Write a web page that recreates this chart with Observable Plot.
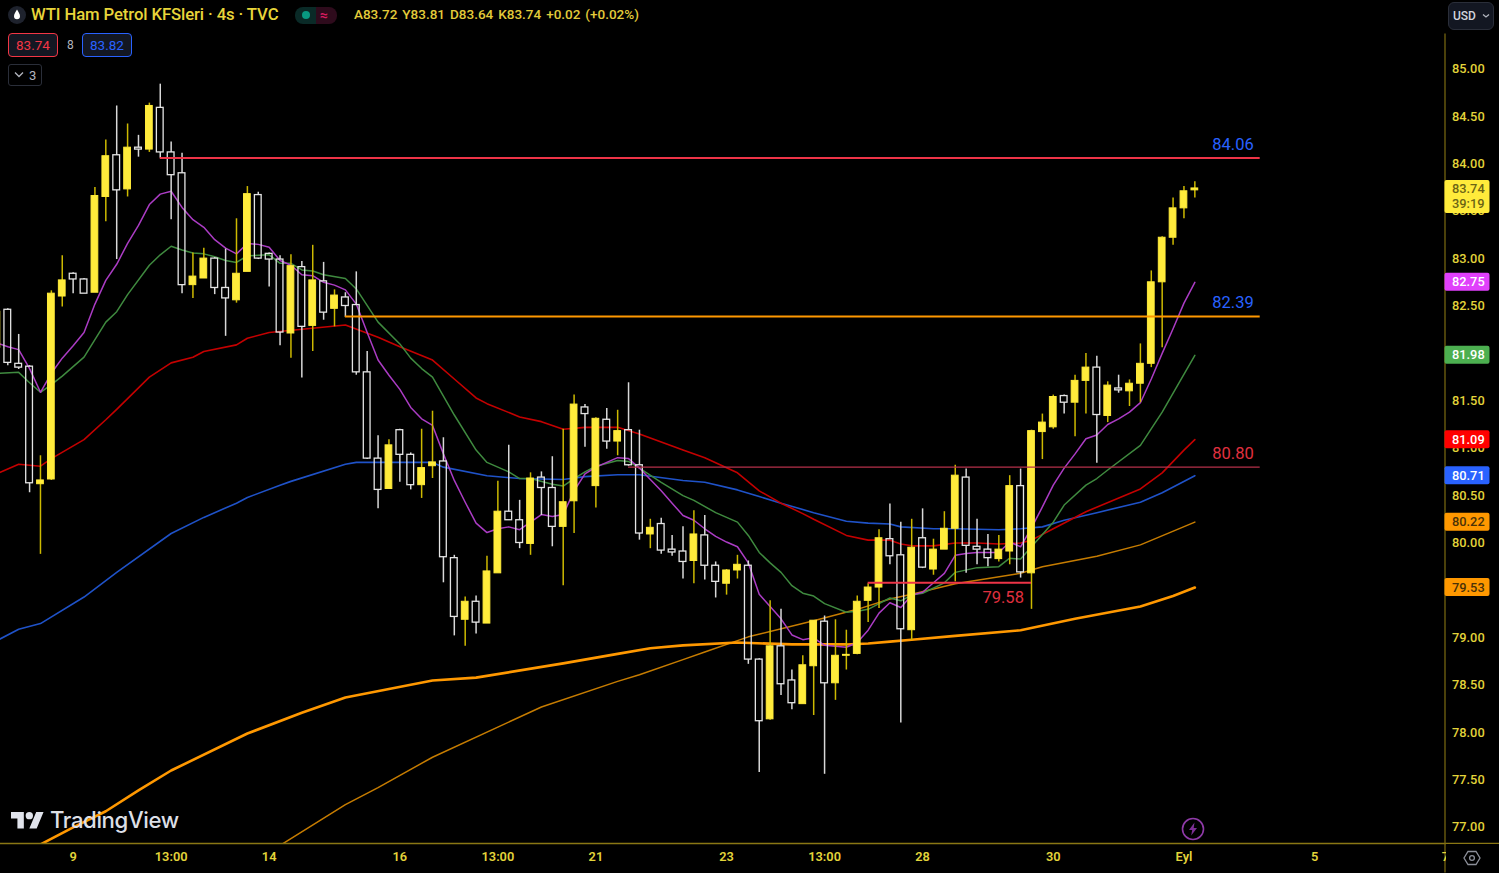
<!DOCTYPE html>
<html><head><meta charset="utf-8">
<script src="https://cdn.jsdelivr.net/npm/d3@7"></script>
<script src="https://cdn.jsdelivr.net/npm/@observablehq/plot@0.6"></script>
<style>
html,body{margin:0;padding:0;background:#000;overflow:hidden}
#wrap{position:relative;width:1499px;height:873px;background:#000;font-family:Roboto,sans-serif;overflow:hidden}
#wrap>svg{display:block}
.o{position:absolute;white-space:nowrap;line-height:1}
.chip{position:absolute;box-sizing:border-box;top:33px;height:24px;width:50px;border-radius:4px;background:#131722;font-size:13.5px;display:flex;align-items:center;justify-content:center}
</style></head><body><div id="wrap">
<svg class="o" style="left:8px;top:6px" width="18" height="18" viewBox="0 0 18 18"><circle cx="9" cy="9" r="9" fill="#1e222d"/><path d="M9 3.5C7.6 6 6 8 6 10.2a3 3 0 0 0 6 0C12 8 10.4 6 9 3.5z" fill="#fff"/></svg>
<div class="o" style="left:31px;top:7px;font-size:16.7px;font-weight:500;color:#e8d53a;letter-spacing:-.1px" id="ttl">WTI Ham Petrol KFSleri · 4s · TVC</div>
<div class="o" style="left:295px;top:7px;width:21px;height:17px;background:#0a2a27;border-radius:8px 0 0 8px"></div>
<div class="o" style="left:316px;top:7px;width:21px;height:17px;background:#2e0b1c;border-radius:0 8px 8px 0"></div>
<div class="o" style="left:302px;top:11px;width:8px;height:8px;border-radius:50%;background:#089981"></div>
<div class="o" style="left:320px;top:8px;font-size:14px;color:#d81b60;font-weight:700">≈</div>
<div class="o" style="left:354px;top:8px;font-size:13.5px;font-weight:500;color:#e3cb3a;word-spacing:1.6px">A83.72 Y83.81 D83.64 K83.74 +0.02 (+0.02%)</div>
<div class="chip" style="left:8px;border:1px solid #f23645;color:#f23645">83.74</div>
<div class="o" style="left:67px;top:39px;font-size:12px;color:#b2b5be">8</div>
<div class="chip" style="left:82px;border:1px solid #2962ff;color:#2962ff">83.82</div>
<div class="o" style="left:8px;top:64px;box-sizing:border-box;width:34px;height:22px;border:1px solid #2a2e39;border-radius:3px"></div>
<svg class="o" style="left:14px;top:71px" width="10" height="7" viewBox="0 0 10 7"><path d="M1 1.5l4 4 4-4" fill="none" stroke="#b2b5be" stroke-width="1.3"/></svg>
<div class="o" style="left:29px;top:69px;font-size:13px;color:#b2b5be">3</div>
<div class="o" style="left:1448px;top:2px;box-sizing:border-box;width:46px;height:28px;background:#131722;border:1px solid #2a2e39;border-radius:6px"></div>
<div class="o" style="left:1453px;top:10px;font-size:12px;font-weight:500;color:#d1d4dc">USD</div>
<svg class="o" style="left:1482px;top:13px" width="8" height="6" viewBox="0 0 8 6"><path d="M1 1.5l3 2.5 3-2.5" fill="none" stroke="#b2b5be" stroke-width="1.3"/></svg>
<svg class="o" style="left:11px;top:812px" width="33" height="17" viewBox="0 0 36 18.5"><path d="M14 18H7V7H0V0h14v18zM28 18h-8L27.5 0h8L28 18z" fill="#e0e3eb"/><circle cx="20" cy="4" r="4" fill="#e0e3eb"/></svg>
<div class="o" style="left:50px;top:809px;font-size:22.2px;font-weight:500;color:#dcdfe6;font-family:Inter,Roboto,sans-serif;letter-spacing:-.4px">TradingView</div>
<svg class="o" style="left:1181px;top:817px" width="24" height="24" viewBox="0 0 24 24"><circle cx="12" cy="12" r="10.5" fill="none" stroke="#8f3aa8" stroke-width="1.6"/><path d="M13.5 5.5L8 13h3.2l-1 5.5L16 11h-3.3z" fill="#7d2f95"/></svg>
<div class="o" style="left:1446px;top:844px;width:53px;height:29px;background:#000"></div>
<svg class="o" style="left:1463px;top:849px" width="18" height="18" viewBox="0 0 18 18"><path d="M5 2.5h8L17 9l-4 6.5H5L1 9z" fill="none" stroke="#8c8f99" stroke-width="1.3"/><circle cx="9" cy="9" r="2.4" fill="none" stroke="#8c8f99" stroke-width="1.3"/></svg>
</div>
<script>
const firstIndex = -1;
const opens = [82.06,82.46,81.89,81.86,80.62,80.67,82.60,82.84,82.78,82.64,83.65,84.09,83.73,84.17,84.15,84.59,84.12,83.90,82.72,82.79,
83.00,82.69,82.56,82.86,83.67,83.05,82.99,82.21,82.91,82.29,82.76,82.47,82.59,82.51,81.80,80.89,80.57,81.19,80.93,80.61,
80.81,80.86,79.84,79.19,79.38,79.15,79.68,80.33,80.24,79.99,80.69,80.58,80.17,80.44,81.43,80.60,81.30,81.07,81.19,80.82,
80.09,80.20,79.93,79.91,79.81,80.08,79.76,79.57,79.71,79.76,78.77,78.14,78.91,78.55,78.30,78.70,79.17,78.52,78.81,78.83,
79.39,79.53,80.04,79.87,79.08,80.05,79.72,79.93,80.15,80.69,79.96,79.93,79.83,79.91,80.60,79.68,81.17,81.22,81.55,81.48,
81.71,81.85,81.34,81.63,81.60,81.68,81.89,82.75,83.22,83.53,83.72];
const highs = [82.46,82.47,82.20,81.87,80.92,82.66,83.03,82.85,82.79,83.75,84.25,84.61,84.42,84.30,84.64,84.84,84.23,84.11,83.06,83.11,
83.01,83.10,83.42,83.76,83.70,83.06,83.03,83.04,82.97,83.14,82.96,82.67,82.64,82.86,82.02,81.13,81.09,81.20,80.95,81.20,
81.39,81.11,79.87,79.43,79.44,79.86,80.65,81.03,80.45,80.74,80.75,80.91,81.20,81.56,81.46,81.32,81.42,81.40,81.69,81.19,
80.25,80.26,80.08,80.17,80.34,80.29,79.80,79.72,79.87,79.81,78.78,79.39,79.30,78.66,78.81,79.18,79.23,79.19,79.08,79.44,
79.57,80.14,80.41,80.22,80.25,80.36,80.04,80.33,80.82,80.78,80.25,80.09,80.08,80.71,80.78,81.19,81.36,81.56,81.56,81.77,
82.00,81.97,81.70,81.77,81.72,82.10,82.87,83.23,83.64,83.76,83.81];
const lows = [82.00,81.87,81.83,80.53,79.88,80.66,82.49,82.63,82.63,82.64,83.39,82.99,83.65,84.07,84.12,84.06,83.41,82.63,82.58,82.79,
82.62,82.18,82.53,82.86,82.99,82.70,82.08,81.95,81.74,82.02,82.35,82.28,82.38,81.77,80.88,80.36,80.57,80.64,80.56,80.47,
80.68,79.58,79.02,78.91,79.04,79.15,79.68,80.24,79.94,79.87,80.29,79.96,79.55,80.10,81.01,80.37,80.99,80.92,80.81,80.03,
79.94,79.88,79.86,79.62,79.57,79.61,79.42,79.45,79.62,78.72,77.58,78.13,78.39,78.24,78.30,78.18,77.56,78.34,78.66,78.82,
79.16,79.31,79.77,78.10,78.97,79.73,79.66,79.93,79.59,79.68,79.77,79.75,79.80,79.77,79.63,79.30,80.88,81.20,81.36,81.12,
81.36,80.84,81.27,81.58,81.44,81.48,81.85,82.06,83.14,83.42,83.64];
const closes = [82.44,81.90,81.85,80.63,80.66,82.63,82.77,82.78,82.63,83.66,84.08,83.72,84.17,84.15,84.61,84.12,83.88,82.72,82.81,83.00,
82.69,82.58,82.84,83.68,83.00,82.99,82.22,82.92,82.28,82.77,82.43,82.61,82.50,81.80,80.89,80.56,81.03,80.93,80.61,80.79,
80.85,79.85,79.22,79.38,79.16,79.70,80.33,80.24,80.00,80.68,80.58,80.17,80.43,81.46,81.36,81.31,81.07,81.18,80.82,80.10,
80.16,79.92,79.90,79.80,80.09,79.76,79.59,79.71,79.77,78.77,78.12,78.91,78.51,78.31,78.71,79.18,78.52,78.81,78.82,79.38,
79.53,80.05,79.86,79.09,79.95,79.74,79.93,80.15,80.71,79.97,79.93,79.84,79.93,80.60,79.69,81.18,81.27,81.54,81.48,81.71,
81.85,81.35,81.66,81.61,81.68,81.89,82.75,83.22,83.53,83.71,83.74];

const purple = [82.11,82.07,82.04,81.84,81.59,81.79,81.95,82.08,82.22,82.52,
82.77,82.94,83.16,83.35,83.57,83.68,83.71,83.54,83.41,83.33,
83.20,83.11,83.05,83.16,83.15,83.12,82.98,82.93,82.83,82.82,
82.75,82.72,82.67,82.52,82.22,81.93,81.77,81.62,81.43,81.31,
81.24,80.94,80.66,80.43,80.21,80.11,80.15,80.17,80.14,80.22,
80.30,80.28,80.30,80.55,80.73,80.80,80.85,80.90,80.89,80.79,
80.67,80.55,80.42,80.29,80.24,80.15,80.07,80.01,79.96,79.79,
79.46,79.33,79.20,79.03,78.98,79.00,78.92,78.91,78.90,78.95,
79.08,79.26,79.37,79.32,79.45,79.48,79.58,79.68,79.87,79.89,
79.90,79.90,79.90,80.01,79.96,80.16,80.38,80.61,80.79,80.94,
81.10,81.14,81.25,81.31,81.38,81.48,81.73,82.00,82.26,82.53,82.75];

const greenAt = [-1,1,2,3,4,5,7,9,10,11,13,14,15,16,17,18,19,20,21,22,24,25,26,27,28,29,31,32,34,36,37,38,39,41,43,44,46,47,48,50,51,52,53,54,56,57,58,60,62,63,65,67,68,69,70,71,72,73,74,75,77,78,79,80,81,82,83,84,86,87,89,91,92,93,94,96,97,99,100,101,104,106,109];
const green = [81.79,81.80,81.69,81.59,81.67,81.76,81.96,82.33,82.44,82.62,82.93,83.04,83.13,83.09,83.06,83.05,83.02,82.98,82.96,83.03,83.04,82.95,82.95,82.88,82.87,82.83,82.79,82.68,82.33,82.10,81.95,81.84,81.75,81.35,80.98,80.85,80.75,80.68,80.68,80.62,80.60,80.68,80.75,80.81,80.87,80.86,80.79,80.64,80.50,80.45,80.32,80.22,80.08,79.90,79.79,79.69,79.55,79.47,79.44,79.36,79.27,79.28,79.30,79.36,79.42,79.39,79.45,79.47,79.58,79.69,79.74,79.75,79.84,79.83,79.96,80.22,80.40,80.61,80.68,80.77,81.03,81.38,81.98];

const redAt = [-1,1,3,4,7,9,10,13,15,17,18,21,22,24,31,34,36,39,41,43,44,47,49,51,53,56,58,62,64,67,69,71,73,74,77,79,81,82,83,85,87,89,91,93,94,96,99,104,106,108,109];
const red = [80.73,80.83,80.81,80.89,81.09,81.30,81.41,81.75,81.90,81.96,82.02,82.09,82.16,82.22,82.30,82.17,82.07,81.93,81.73,81.53,81.47,81.33,81.28,81.20,81.22,81.22,81.15,80.98,80.90,80.74,80.55,80.42,80.31,80.25,80.08,80.03,80.03,79.99,79.97,79.97,80.00,80.00,79.99,80.00,80.03,80.15,80.33,80.57,80.74,80.98,81.09];

const blueAt = [-1,1,3,7,10,15,18,21,22,25,26,31,32,39,40,44,47,51,53,56,58,62,64,67,69,71,74,77,79,81,82,85,87,91,93,95,97,100,104,106,109];
const blue = [78.97,79.09,79.15,79.43,79.69,80.10,80.27,80.42,80.48,80.61,80.65,80.83,80.85,80.85,80.80,80.71,80.68,80.67,80.70,80.72,80.72,80.66,80.64,80.56,80.49,80.42,80.32,80.23,80.21,80.20,80.17,80.15,80.15,80.14,80.15,80.17,80.24,80.32,80.43,80.53,80.71];

const thinOrangeAt = [25,31,34,39,49,56,58,62,64,67,68,74,78,81,83,87,93,95,100,104,109];
const thinOrange = [76.81,77.24,77.42,77.74,78.27,78.54,78.61,78.77,78.85,78.97,79.01,79.18,79.30,79.41,79.46,79.57,79.68,79.75,79.86,79.98,80.22];

const thickOrangeAt = [3,6,9,12,15,22,27,31,39,43,51,56,59,62,67,72,77,79,81,83,87,93,98,104,107,109];
const thickOrange = [76.82,77.00,77.17,77.39,77.60,77.99,78.21,78.37,78.55,78.58,78.73,78.83,78.89,78.92,78.95,78.93,78.93,78.94,78.96,78.98,79.02,79.08,79.20,79.33,79.44,79.53];

const yTicks = [77,77.5,78,78.5,79,79.5,80,80.5,81,81.5,82,82.5,83,83.5,84,84.5,85];
const xTickAt = [6,15,24,36,45,54,66,75,84,96,108,120,132];
const xTickLabels = ["9","13:00","14","16","13:00","21","23","13:00","28","30","Eyl","5","7"];

const levelPrices = [84.06,82.39,80.80,79.58];
const levelFrom = [14,31,57,79];
const levelTo = [115,115,115,94];
const levelColors = ["#ee3447","#ff9800","#b5304a","#ee3447"];
const levelWidths = [2,2,1.2,2];
const levelLabelAt = [112.5,112.5,112.5,91.4];
const levelLabelColors = ["#2962ff","#2962ff","#e0303f","#e0303f"];

const tagPrices = [83.74,82.75,81.98,81.09,80.71,80.22,79.53];
const tagFills = ["#ffeb3b","#e040fb","#4caf50","#ff0000","#2962ff","#ff9800","#ff9800"];
const tagInks = ["#6b6415","#ffffff","#ffffff","#ffffff","#ffffff","#4a3208","#4a3208"];
const countdown = "39:19";

const candles = opens.map((o,k)=>({i:firstIndex+k,o,h:highs[k],l:lows[k],c:closes[k],up:closes[k]>=o,top:Math.max(o,closes[k]),bot:Math.min(o,closes[k])}));
const upC = candles.filter(d=>d.up), dnC = candles.filter(d=>!d.up);
const series = (at,v)=>v.map((p,k)=>({i:at[k],p}));
const purpleS = series(purple.map((_,k)=>firstIndex+k),purple);
const levels = levelPrices.map((p,k)=>({p,a:levelFrom[k],b:levelTo[k],c:levelColors[k],w:levelWidths[k],at:levelLabelAt[k],lc:levelLabelColors[k]}));
const tags = tagPrices.map((p,k)=>({p,f:tagFills[k],ink:tagInks[k]}));
const xMin=-0.67, xMax=131.97, yMax=85.7226, yMin=76.83, half=0.31;
const wickUp="#cdb900", wickDn="#d8d8d8", bodyUp="#ffeb3b", axisC="#7d6c12", tickC="#e3d43a";
const L=(s,stroke,w)=>Plot.line(s,{x:"i",y:"p",stroke,strokeWidth:w,clip:true,strokeLinejoin:"round"});

const chart = Plot.plot({
  width:1499,height:873,marginLeft:0,marginRight:54.5,marginTop:0,marginBottom:30,
  style:{background:"#000",fontFamily:"Roboto, sans-serif"},
  x:{domain:[xMin,xMax],axis:null},
  y:{domain:[yMin,yMax],axis:null},
  marks:[
    L(series(thinOrangeAt,thinOrange),"#c67c00",1.5),
    L(series(thickOrangeAt,thickOrange),"#ff9800",2.6),
    L(series(blueAt,blue),"#1f52c8",1.6),
    L(series(redAt,red),"#c40000",1.6),
    L(series(greenAt,green),"#3f8a3f",1.5),
    L(purpleS,"#ab3cc4",1.5),
    Plot.ruleX(dnC,{x:"i",y1:"top",y2:"h",stroke:wickDn,strokeWidth:1.5,clip:true}),
    Plot.ruleX(dnC,{x:"i",y1:"bot",y2:"l",stroke:wickDn,strokeWidth:1.5,clip:true}),
    Plot.ruleX(upC,{x:"i",y1:"top",y2:"h",stroke:wickUp,strokeWidth:1.5,clip:true}),
    Plot.ruleX(upC,{x:"i",y1:"bot",y2:"l",stroke:wickUp,strokeWidth:1.5,clip:true}),
    Plot.rect(dnC,{x1:d=>d.i-half,x2:d=>d.i+half,y1:"bot",y2:"top",fill:"none",stroke:"#e4e4e4",strokeWidth:1.3,clip:true}),
    Plot.rect(upC,{x1:d=>d.i-half,x2:d=>d.i+half,y1:"bot",y2:"top",fill:bodyUp,stroke:bodyUp,strokeWidth:1,clip:true}),
    Plot.ruleY(levels,{y:"p",x1:"a",x2:"b",stroke:"c",strokeWidth:"w"}),
    Plot.text(levels.slice(0,3),{x:"at",y:"p",dy:-13.5,text:d=>d.p.toFixed(2),fill:"lc",fontSize:16.5,textAnchor:"middle"}),
    Plot.text(levels.slice(3),{x:"at",y:"p",dy:14.5,text:d=>d.p.toFixed(2),fill:"lc",fontSize:16.5,textAnchor:"middle"}),
    Plot.ruleY([yMin],{x1:xMin,x2:137.0,stroke:"#8a7714",strokeWidth:1.4}),
    Plot.ruleX([xMax],{y1:85.37,y2:76.52,stroke:axisC,strokeWidth:1.2}),
    Plot.axisY({anchor:"right",ticks:yTicks,tickSize:0,tickPadding:7,tickFormat:d=>d.toFixed(2),label:null,fill:tickC,fontSize:12.8,fontWeight:500}),
    Plot.axisX({anchor:"bottom",ticks:xTickAt,tickSize:0,tickPadding:8,tickFormat:d=>xTickLabels[xTickAt.indexOf(d)],label:null,fill:tickC,fontSize:12.8,fontWeight:600}),
    Plot.rect(tags.slice(0,1),{x1:xMax,x2:xMax,y1:"p",y2:"p",insetRight:-45,insetTop:-8,insetBottom:-25,fill:"f",rx:2}),
    Plot.rect(tags.slice(1),{x1:xMax,x2:xMax,y1:"p",y2:"p",insetRight:-45,insetTop:-9,insetBottom:-9,fill:"f",rx:2}),
    Plot.text(tags,{x:xMax,y:"p",dx:7,text:d=>d.p.toFixed(2),fill:"ink",textAnchor:"start",fontSize:12.8,fontWeight:500}),
    Plot.text([tags[0]],{x:xMax,y:"p",dx:7,dy:15.5,text:()=>countdown,fill:"ink",textAnchor:"start",fontSize:12.8,fontWeight:500})
  ]
});
const wrap=document.getElementById("wrap");
wrap.insertBefore(chart,wrap.firstChild);
</script>
</body></html>
